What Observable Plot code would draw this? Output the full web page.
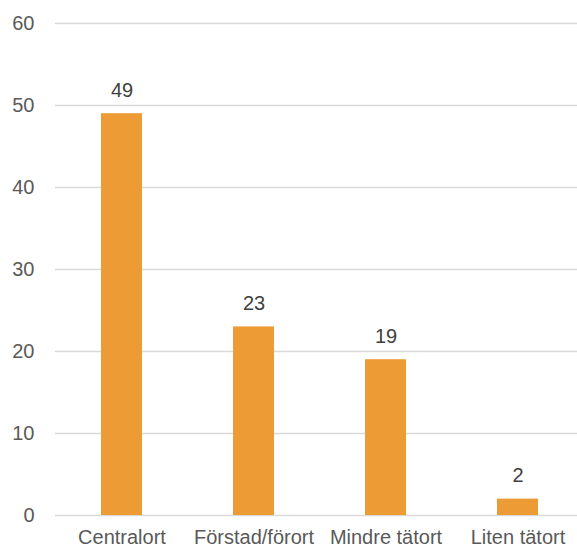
<!DOCTYPE html>
<html>
<head>
<meta charset="utf-8">
<script src="https://cdn.jsdelivr.net/npm/d3@7"></script>
<script src="https://cdn.jsdelivr.net/npm/@observablehq/plot@0.6"></script>
<style>
  html, body { margin: 0; padding: 0; background: #ffffff; }
  #chart svg { display: block; }
</style>
</head>
<body>
<div id="chart"></div>
<script>
// Ortstyp och antal
const categories = ["Centralort", "Förstad/förort", "Mindre tätort", "Liten tätort"];
const values = [49, 23, 19, 2];
const yTicks = [0, 10, 20, 30, 40, 50, 60];

const data = categories.map((c, i) => ({ort: c, antal: values[i]}));

const font = "'Liberation Sans', Arial, sans-serif";

const chart = Plot.plot({
  width: 577,
  height: 548,
  marginLeft: 55,
  marginRight: 0,
  marginTop: 23,
  marginBottom: 33,
  style: {fontFamily: font, fontSize: "20px", color: "#595959", background: "#ffffff"},
  x: {domain: categories, range: [55, 583], paddingInner: 0.69, paddingOuter: 0.345, label: null},
  y: {domain: [0, 60], ticks: yTicks, label: null},
  marks: [
    Plot.gridY(yTicks, {stroke: "#d9d9d9", strokeOpacity: 1, strokeWidth: 1.3}),
    Plot.barY(data, {x: "ort", y: "antal", fill: "#ED9C35"}),
    Plot.text(data, {
      x: "ort", y: "antal", text: d => String(d.antal),
      lineAnchor: "bottom", dy: -17, fill: "#404040", fontSize: 20
    }),
    Plot.axisY(yTicks, {tickSize: 0, tickPadding: 21, fill: "#595959", fontSize: 20, label: null}),
    Plot.axisX({tickSize: 0, tickPadding: 14, fill: "#595959", fontSize: 20, label: null})
  ]
});

document.getElementById("chart").appendChild(chart);
</script>
</body>
</html>
